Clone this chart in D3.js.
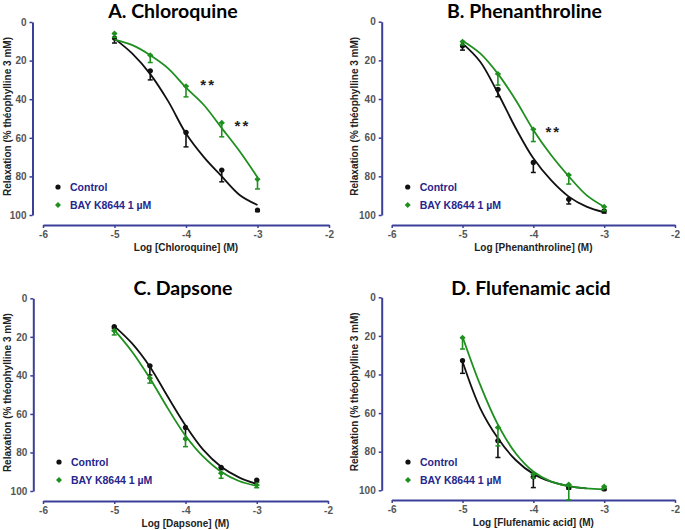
<!DOCTYPE html>
<html><head><meta charset="utf-8">
<script src="https://cdn.jsdelivr.net/npm/d3@7"></script>
<style>body{margin:0;background:#fff}svg{display:block}</style>
</head><body>
<svg id="c" width="685" height="530"></svg>
<script>
// ---------- data ----------
const xTicks = [-6, -5, -4, -3, -2];
const yTicks = [0, 20, 40, 60, 80, 100];
const doses = [-5, -4.5, -4, -3.5, -3];
const curveX = [-5, -4.75, -4.5, -4.25, -4, -3.75, -3.5, -3.25, -3];
const seriesNames = ["Control", "BAY K8644 1 µM"];

const titles = ["A. Chloroquine", "B. Phenanthroline", "C. Dapsone", "D. Flufenamic acid"];
const xLabels = ["Log [Chloroquine] (M)", "Log [Phenanthroline] (M)", "Log [Dapsone] (M)", "Log [Flufenamic acid] (M)"];
const yLabel = "Relaxation (% théophylline 3 mM)";

// means and error (SEM) per panel
const ctrlA = [8.3, 25.3, 57.2, 76.7, 97.4];
const ctrlAErr = [2.6, 4.7, 7.5, 6.1, 0.8];
const bayA = [6, 17.2, 33.3, 52.2, 81.5];
const bayAErr = [2, 3.8, 5.5, 7.3, 5];
const ctrlB = [12.4, 35, 72.8, 91.9, 97.8];
const ctrlBErr = [2.3, 3.8, 5.2, 2.4, 1.2];
const bayB = [10.3, 27, 55.7, 79.3, 95.7];
const bayBErr = [1.7, 5.8, 6.3, 4.7, 2.1];
const ctrlC = [14.7, 35, 67, 87.7, 94.3];
const ctrlCErr = [1, 4.8, 5.7, 1.2, 1];
const bayC = [16.8, 41.5, 73, 90.8, 96.9];
const bayCErr = [2.2, 2.5, 4, 2.6, 1.4];
const ctrlD = [32.8, 74.3, 93, 98.6, 99.3];
const ctrlDErr = [6.6, 8.7, 5.6, 0.8, 0.6];
const bayD = [20.9, 67.5, 91.7, 97, 98];
const bayDErr = [5.9, 9.5, 2, 8, 1];

// fitted curves
const ctrlAFit = [8.6, 16.4, 27, 41, 57.8, 70, 80, 89.6, 94.8];
const bayAFit = [9.1, 12, 17.2, 24, 34, 43, 55, 67, 80.5];
const ctrlBFit = [11.2, 20.7, 37, 55, 70.7, 82, 90.5, 95.7, 98.6];
const bayBFit = [9.8, 16.4, 27, 40.5, 56, 69, 80, 89.7, 95.7];
const ctrlCFit = [14.4, 23.4, 35.5, 51, 66, 78.7, 87.4, 92.9, 96.4];
const bayCFit = [16.4, 27.7, 41.5, 57, 71.3, 82.2, 90, 94.8, 97.4];
const ctrlDFit = [33.3, 57.5, 73, 84.3, 91.5, 95.5, 97.8, 99, null];
const bayDFit = [20.4, 45.4, 66, 80.8, 90.3, 95.5, 97.8, 99, 99.5];

// significance stars: [logDose, value]
const starsA = [[-3.8, 31.5], [-3.32, 53]];
const starsB = [[-3.83, 56]];
const starsC = [];
const starsD = [];

// ---------- layout ----------
const panels = [
  {ax: 32.5, y0: 22, y1: 215, xy: 225, x0: 43, x1: 329, tx: 173, ty: 18, lx: 58, ly: 187, yl: 7, xlY: 251,
   ctrl: ctrlA, ce: ctrlAErr, bay: bayA, be: bayAErr, cf: ctrlAFit, bf: bayAFit, stars: starsA},
  {ax: 381.7, y0: 21.7, y1: 215, xy: 225, x0: 391.7, x1: 675, tx: 524.5, ty: 18, lx: 407.7, ly: 187, yl: 354, xlY: 251,
   ctrl: ctrlB, ce: ctrlBErr, bay: bayB, be: bayBErr, cf: ctrlBFit, bf: bayBFit, stars: starsB},
  {ax: 33.3, y0: 298.3, y1: 491, xy: 501, x0: 43, x1: 328, tx: 183, ty: 295, lx: 59, ly: 462, yl: 7, xlY: 527,
   ctrl: ctrlC, ce: ctrlCErr, bay: bayC, be: bayCErr, cf: ctrlCFit, bf: bayCFit, stars: starsC},
  {ax: 381.7, y0: 297.3, y1: 490.3, xy: 500, x0: 391.7, x1: 675, tx: 531, ty: 295, lx: 408, ly: 462, yl: 354, xlY: 526,
   ctrl: ctrlD, ce: ctrlDErr, bay: bayD, be: bayDErr, cf: ctrlDFit, bf: bayDFit, stars: starsD}
];

const AXIS = "#3b3f98", TICK = "#555", LEG = "#26268c", GREEN = "#1f8f1f", BLACK = "#111";
const svg = d3.select("#c");

const marker = (g, cx, cy, k, color) => {
  if (k === 0) g.append("circle").attr("cx", cx).attr("cy", cy).attr("r", 2.6).attr("fill", color);
  else g.append("rect").attr("x", -2.1).attr("y", -2.1).attr("width", 4.2).attr("height", 4.2)
    .attr("transform", `translate(${cx},${cy}) rotate(45)`).attr("fill", color);
};

panels.forEach((p, i) => {
  const x = d3.scaleLinear().domain([-6, -2]).range([p.x0, p.x1]);
  const y = d3.scaleLinear().domain([0, 100]).range([p.y0, p.y1]);
  const g = svg.append("g");

  // title
  g.append("text").attr("x", p.tx).attr("y", p.ty).attr("text-anchor", "middle")
    .attr("font-family", "Lato, 'Open Sans', sans-serif").attr("font-weight", 700)
    .attr("font-size", 19.5).attr("fill", "#000").text(titles[i]);

  // y axis
  const ya = g.append("g").attr("transform", `translate(${p.ax},0)`)
    .call(d3.axisLeft(y).tickValues(yTicks).tickSize(3).tickPadding(3).tickSizeOuter(0));
  // x axis
  const xa = g.append("g").attr("transform", `translate(0,${p.xy})`)
    .call(d3.axisBottom(x).tickValues(xTicks).tickSize(3).tickPadding(3).tickSizeOuter(0)
      .tickFormat(d => String(d)));
  [ya, xa].forEach(a => {
    a.select(".domain").attr("stroke", AXIS).attr("stroke-width", 2);
    a.selectAll(".tick line").attr("stroke", AXIS).attr("stroke-width", 1.5);
    a.selectAll(".tick text").attr("fill", TICK).attr("font-family", "'Liberation Sans', Arial, sans-serif")
      .attr("font-weight", 700).attr("font-size", 10);
  });

  // axis titles
  g.append("text").attr("x", (p.x0 + p.x1) / 2).attr("y", p.xlY).attr("text-anchor", "middle")
    .attr("font-family", "'Liberation Sans', Arial, sans-serif").attr("font-weight", 700)
    .attr("font-size", 10).attr("fill", "#222").text(xLabels[i]);
  g.append("text").attr("transform", `translate(${p.yl + 3.5},${(p.y0 + p.y1) / 2 - 2}) rotate(-90)`)
    .attr("text-anchor", "middle")
    .attr("font-family", "'Liberation Sans', Arial, sans-serif").attr("font-weight", 700)
    .attr("font-size", 10).attr("fill", "#222").text(yLabel);

  const line = d3.line().defined(d => d[1] != null)
    .x(d => x(d[0])).y(d => y(d[1])).curve(d3.curveCatmullRom.alpha(0.5));

  const drawSeries = (vals, errs, fit, color, k) => {
    g.append("path").datum(curveX.map((cx, j) => [cx, fit[j]]))
      .attr("d", line).attr("fill", "none").attr("stroke", color).attr("stroke-width", 1.8);
    doses.forEach((d, j) => {
      const xx = x(d), ya0 = y(vals[j]), ya1 = y(vals[j] + errs[j]);
      g.append("line").attr("x1", xx).attr("x2", xx).attr("y1", ya0).attr("y2", ya1)
        .attr("stroke", color).attr("stroke-width", 1.6);
      [ya0, ya1].forEach(yy => g.append("line").attr("x1", xx - 2.5).attr("x2", xx + 2.5)
        .attr("y1", yy).attr("y2", yy).attr("stroke", color).attr("stroke-width", 1.5));
      marker(g, xx, ya0, k, color);
    });
  };
  drawSeries(p.ctrl, p.ce, p.cf, BLACK, 0);
  drawSeries(p.bay, p.be, p.bf, GREEN, 1);

  // stars
  p.stars.forEach(s => g.append("text").attr("x", x(s[0])).attr("y", y(s[1]) + 7)
    .attr("font-family", "'Liberation Sans', Arial, sans-serif").attr("font-weight", 700)
    .attr("font-size", 15).attr("fill", "#222").attr("letter-spacing", 2).text("**"));

  // legend
  seriesNames.forEach((n, k) => {
    const yy = p.ly + k * 18;
    marker(g, p.lx, yy, k, k === 0 ? BLACK : GREEN);
    g.append("text").attr("x", p.lx + 12).attr("y", yy + 3.5)
      .attr("font-family", "'Liberation Sans', Arial, sans-serif").attr("font-weight", 700)
      .attr("font-size", 10.5).attr("fill", LEG).text(n);
  });
});
</script>
</body></html>
